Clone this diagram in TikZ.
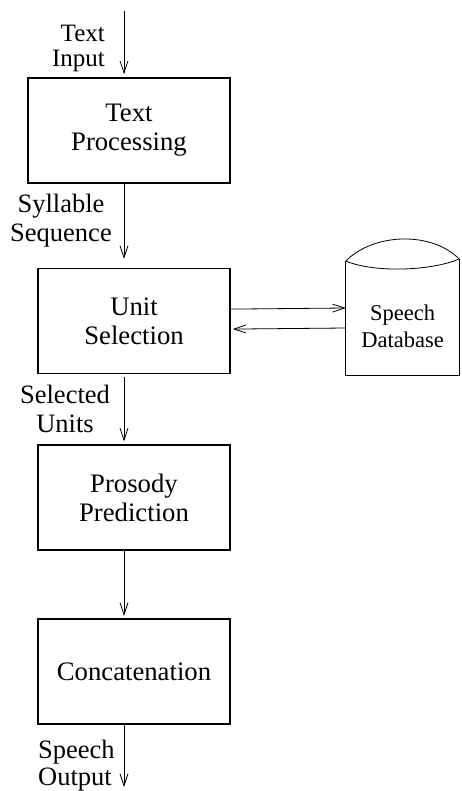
\documentclass[tikz,border=0pt]{standalone}
\usepackage{fontspec}
\setmainfont{Liberation Serif}
\usetikzlibrary{arrows.meta, positioning}
\newcommand{\boxfont}{\fontsize{26.7}{29}\selectfont}
\newcommand{\lblfont}{\fontsize{26.5}{28.5}\selectfont}
\newcommand{\dbfont}{\fontsize{22.5}{27}\selectfont}
\tikzset{
  block/.style={rectangle, draw=black, line width=1.6pt, minimum width=192pt, minimum height=105pt, text centered, align=center, font=\boxfont, inner sep=0pt},
  lbl/.style={inner sep=0pt, font=\lblfont},
  dbase/.style={rectangle, minimum width=113pt, align=center, font=\dbfont, inner sep=0pt},
  arrow/.style={line width=0.8pt,-{Straight Barb[length=12pt,width=8pt]}}
}

\begin{document}
\begin{tikzpicture}[x=1pt,y=1pt]
    \useasboundingbox (0,0) rectangle (461,-791);
    \coordinate (in) at (124,-11);
    \coordinate (out) at (124,-787);

    \node (tp) [block, minimum width=202pt] at (129,-130.5) {Text\\Processing};
    \node (us) [block, below=84pt of tp, xshift=5pt] {Unit\\Selection};
    \node (pp) [block, below=70pt of us] {Prosody\\Prediction};
    \node (cc) [block, below=67pt of pp] {Concatenation};
    \node (db) [dbase] at (402.5,-326) {Speech\\Database};

    % labels
    \node (lin) [lbl, align=right, anchor=north east, font=\fontsize{25}{24.5}\selectfont] at (105,-25) {Text\\Input};
    \node (lsyl) [lbl, align=center, anchor=north] at (61,-194) {Syllable\\Sequence};
    \node (lsel) [lbl, align=center, anchor=north] at (65,-385) {Selected\\Units};
    \node (lout) [lbl, align=left, anchor=north west, font=\fontsize{26.5}{27}\selectfont] at (38,-740) {Speech\\Output};

    % main chain
    \draw[arrow, shorten >=3pt] (in) -- (tp.north -| in);
    \draw[arrow, shorten >=9pt] (tp.south -| in) -- (us.north -| in);
    \draw[arrow, shorten <=3pt, shorten >=3pt] (us.south -| in) -- (pp.north -| in);
    \draw[arrow, shorten >=2pt] (pp.south -| in) -- (cc.north -| in);
    \draw[arrow] (cc.south -| in) -- (out);

    % database link
    \draw[arrow] ([yshift=12pt]us.east) -- ([yshift=18pt]db.west);
    \draw[arrow, shorten >=2pt] ([yshift=-2pt]db.west) -- ([yshift=-8pt]us.east);

    % cylinder outline
    \draw[line width=0.8pt] ([yshift=65pt]db.west) -- ([yshift=-49pt]db.west)
      -- ([yshift=-49pt]db.east) -- ([yshift=67pt]db.east);
    \draw[line width=0.8pt] ([yshift=65pt]db.west)
      .. controls ([xshift=28pt,yshift=93pt]db.west) and ([xshift=-28pt,yshift=95pt]db.east) .. ([yshift=67pt]db.east);
    \draw[line width=0.8pt] ([yshift=65pt]db.west)
      .. controls ([xshift=28pt,yshift=53pt]db.west) and ([xshift=-28pt,yshift=55pt]db.east) .. ([yshift=67pt]db.east);
  \end{tikzpicture}
\end{document}
